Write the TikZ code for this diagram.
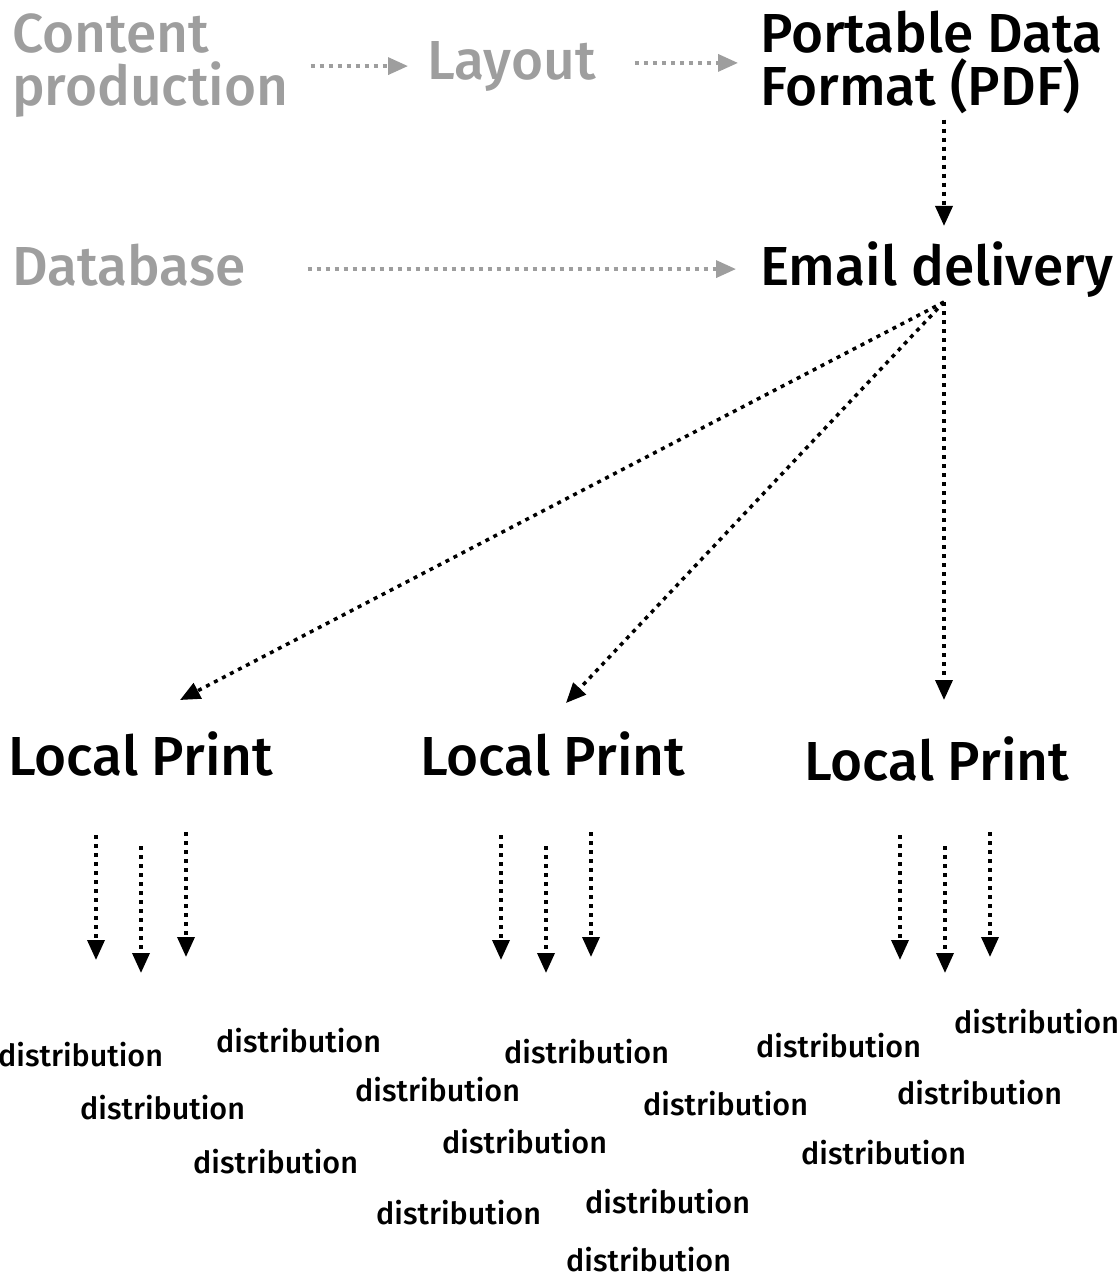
\documentclass[tikz,border=0pt]{standalone}
\usepackage{fontspec}
\setmainfont{Fira Sans Medium}
\usetikzlibrary{arrows.meta,calc,positioning}
\definecolor{faded}{RGB}{158,158,158}
\tikzset{
  big/.style={font=\fontsize{55}{53}\selectfont, inner sep=0pt, anchor=base west, align=left},
  small/.style={font=\fontsize{30.5}{30}\selectfont, inner sep=0pt, anchor=base west},
  flow/.style={line width=3.5pt, dash pattern=on 4pt off 5pt, -{Triangle[width=17pt,length=20pt]}},
  flowgray/.style={flow, faded},
}

\begin{document}
\begin{tikzpicture}[x=1pt,y=-1pt]
\useasboundingbox (0,0) rectangle (1117,1279);
% top row
\node[big,text=faded] (content) at (12,106) {Content\\production};
\node[big,text=faded] (layout) at (427,80) {Layout};
\node[big] (pdf) at (760,106) {Portable Data\\Format (PDF)};
\node[big,text=faded] (database) at (12,285) {Database};
\node[big] (email) at (760,285) {Email delivery};
% printers
\node[big] (lp1) at (8,775) {Local Print};
\node[big] (lp2) at (420,775) {Local Print};
\node[big] (lp3) at (804,780) {Local Print};
\coordinate (hub) at (944,302);
\coordinate (lp1in) at (180,700);
\coordinate (lp2in) at (566,703);
\coordinate (lp3in) at (944,700);
\path[flowgray]
(content.east) edge [shorten <=22pt, shorten >=19pt] (content.east -| layout.west)
(layout.east |- pdf.west) edge [shorten <=39pt, shorten >=22pt] (pdf.west)
(database.east |- email.west) edge [shorten <=62pt, shorten >=24pt] (email.west);
\path[flow]
(pdf.south -| hub) edge [shorten <=5pt, shorten >=15pt] (email.north -| hub)
(hub) edge (lp1in)
(hub) edge (lp2in)
(hub) edge (lp3in);
% local distribution
\foreach \x in {0,405,804} {
  \foreach \a/\top/\tip in {96/835/960,141/846/973,186/832/957} {
    \coordinate (out-\x-\a) at (\x+\a,\top);
    \coordinate (in-\x-\a) at (\x+\a,\tip);
    \draw[flow] (out-\x-\a) -- (in-\x-\a);
  }
}
\foreach \px/\py [count=\i] in {-2/1066,216/1052,80/1119,193/1173,355/1101,504/1063,442/1153,376/1224,643/1115,585/1213,566/1271,756/1057,954/1033,897/1104,801/1164}
  \node[small] (dist\i) at (\px,\py) {distribution};
\end{tikzpicture}
\end{document}
